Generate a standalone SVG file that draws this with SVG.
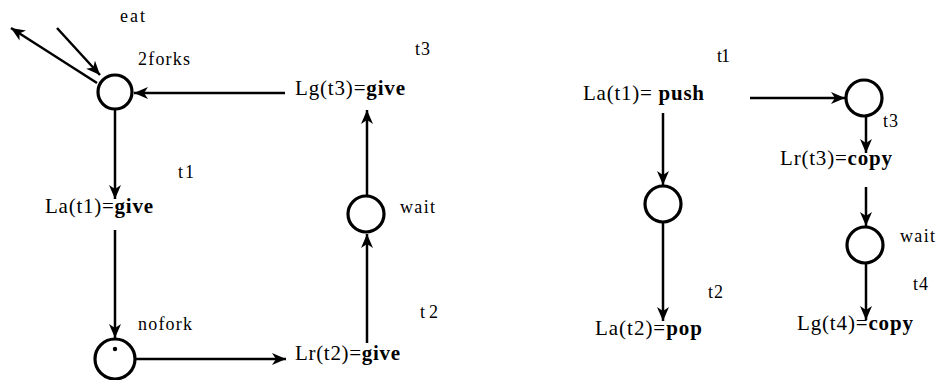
<svg xmlns="http://www.w3.org/2000/svg" width="936" height="380" viewBox="0 0 936 380">
<style>
.place{fill:#fff;stroke:#000;stroke-width:3.2}
.edge{fill:none;stroke:#000;stroke-width:2.5;marker-end:url(#ah)}
text{font-family:'Liberation Serif','Times New Roman',serif;fill:#000}
.lab{font-size:21px}
.sm{font-size:18px}
.b{font-weight:bold}
</style>
<defs>
<marker id="ah" markerUnits="userSpaceOnUse" markerWidth="16" markerHeight="12" refX="14" refY="6" orient="auto">
<path d="M0,0 L14,6 L0,12 L4,6 Z" fill="#000"/>
</marker>
</defs>
<rect width="936" height="380" fill="#fff"/>
<g id="connectors">
<line class="edge" x1="57" y1="28" x2="100" y2="75"/>
<line class="edge" x1="97" y1="83" x2="11" y2="28"/>
<line class="edge" x1="285" y1="93" x2="134" y2="93"/>
<line class="edge" x1="115" y1="109" x2="115" y2="199"/>
<line class="edge" x1="115" y1="230" x2="115" y2="338"/>
<line class="edge" x1="136" y1="359" x2="286" y2="359"/>
<line class="edge" x1="367" y1="343" x2="367" y2="234"/>
<line class="edge" x1="367" y1="195" x2="367" y2="110"/>
<line class="edge" x1="663" y1="113" x2="663" y2="185"/>
<line class="edge" x1="663" y1="222" x2="663" y2="321"/>
<line class="edge" x1="750" y1="98" x2="845" y2="98"/>
<line class="edge" x1="866" y1="115" x2="866" y2="153"/>
<line class="edge" x1="866" y1="187" x2="866" y2="226"/>
<line class="edge" x1="866" y1="263" x2="866" y2="320"/>
</g>
<g id="p-2forks">
<circle class="place" cx="115" cy="92" r="17"/>
<text class="sm" x="138" y="65" textLength="52">2forks</text>
<text class="sm" x="120" y="22" textLength="25">eat</text>
</g>
<g id="t3-left">
<text class="lab" x="295" y="95" textLength="110">Lg(t3)=<tspan class="b">give</tspan></text>
<text class="sm" x="415" y="55" textLength="15">t3</text>
</g>
<g id="t1-left">
<text class="lab" x="45" y="213" textLength="108">La(t1)=<tspan class="b">give</tspan></text>
<text class="sm" x="178" y="178" textLength="16">t1</text>
</g>
<g id="p-nofork">
<circle class="place" cx="115" cy="359" r="20"/>
<circle cx="115" cy="349" r="2.2" fill="#000"/>
<text class="sm" x="138" y="330" textLength="54">nofork</text>
</g>
<g id="t2-left">
<text class="lab" x="295" y="360" textLength="105">Lr(t2)=<tspan class="b">give</tspan></text>
<text class="sm" x="420" y="318" textLength="18">t2</text>
</g>
<g id="p-wait-left">
<circle class="place" cx="366" cy="214" r="18"/>
<text class="sm" x="400" y="213" textLength="35">wait</text>
</g>
<g id="t1-right">
<text class="lab" x="583" y="100" textLength="121">La(t1)= <tspan class="b">push</tspan></text>
<text class="sm" x="717" y="62" textLength="13">t1</text>
</g>
<g id="p-right-mid">
<circle class="place" cx="663" cy="204" r="18"/>
</g>
<g id="t2-right">
<text class="lab" x="595" y="335" textLength="107">La(t2)=<tspan class="b">pop</tspan></text>
<text class="sm" x="708" y="298" textLength="15">t2</text>
</g>
<g id="p-right-top">
<circle class="place" cx="864" cy="98" r="18"/>
</g>
<g id="t3-right">
<text class="lab" x="780" y="165" textLength="112">Lr(t3)=<tspan class="b">copy</tspan></text>
<text class="sm" x="883" y="127" textLength="15">t3</text>
</g>
<g id="p-wait-right">
<circle class="place" cx="865" cy="245" r="18"/>
<text class="sm" x="900" y="242" textLength="35">wait</text>
</g>
<g id="t4-right">
<text class="lab" x="797" y="330" textLength="116">Lg(t4)=<tspan class="b">copy</tspan></text>
<text class="sm" x="913" y="290" textLength="15">t4</text>
</g>
</svg>
